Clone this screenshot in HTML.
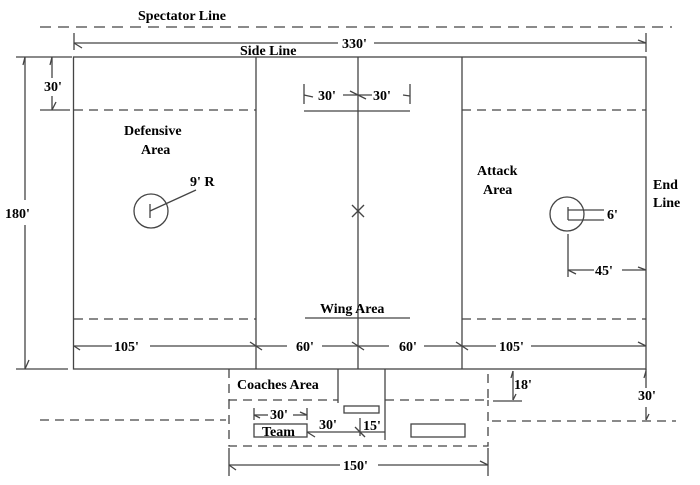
<!DOCTYPE html>
<html><head><meta charset="utf-8"><style>
html,body{margin:0;padding:0;background:#fff;}
svg{display:block;}
text{font-family:"Liberation Serif",serif;font-weight:bold;font-size:14px;fill:#000;}
</style></head><body>
<svg width="700" height="485" viewBox="0 0 700 485" xmlns="http://www.w3.org/2000/svg">
<g stroke="#444" stroke-width="1.3" fill="none">
<line x1="40" y1="27" x2="672" y2="27" stroke-dasharray="11,7"/>
<line x1="74" y1="33" x2="74" y2="50"/><line x1="646" y1="33" x2="646" y2="52"/>
<line x1="74" y1="43" x2="338" y2="43"/><line x1="374" y1="43" x2="646" y2="43"/>
<line x1="74" y1="43" x2="82" y2="48"/><line x1="646" y1="43" x2="638" y2="40"/>
<rect x="73.5" y="57" width="572.5" height="312"/>
<line x1="256" y1="57" x2="256" y2="369"/>
<line x1="358" y1="57" x2="358" y2="369"/>
<line x1="462" y1="57" x2="462" y2="369"/>
<line x1="74" y1="110" x2="256" y2="110" stroke-dasharray="9,6"/>
<line x1="462" y1="110" x2="646" y2="110" stroke-dasharray="9,6"/>
<line x1="74" y1="319" x2="256" y2="319" stroke-dasharray="9,6"/>
<line x1="462" y1="319" x2="646" y2="319" stroke-dasharray="9,6"/>
<line x1="16" y1="57" x2="72" y2="57"/><line x1="40" y1="110" x2="70" y2="110"/>
<line x1="25" y1="57" x2="25" y2="200"/><line x1="25" y1="225" x2="25" y2="369"/>
<line x1="25" y1="369" x2="29" y2="360"/><line x1="25" y1="57" x2="23" y2="65"/>
<line x1="52" y1="57" x2="52" y2="78"/><line x1="52" y1="96" x2="52" y2="110"/>
<line x1="52" y1="110" x2="56" y2="102"/><line x1="52" y1="57" x2="50" y2="65"/>
<line x1="16" y1="369" x2="68" y2="369"/>
<line x1="304" y1="84" x2="304" y2="104"/><line x1="410" y1="84" x2="410" y2="104"/>
<line x1="304" y1="111" x2="410" y2="111"/>
<line x1="304" y1="95" x2="313" y2="97"/><line x1="343" y1="95" x2="372" y2="95"/>
<line x1="350" y1="91" x2="366" y2="99"/><line x1="403" y1="95" x2="410" y2="96"/>
<line x1="305" y1="318" x2="410" y2="318"/>
<circle cx="151" cy="211" r="17"/>
<line x1="150" y1="204" x2="150" y2="218"/><line x1="150" y1="211" x2="196" y2="190"/>
<circle cx="567" cy="214" r="17"/>
<line x1="568" y1="207" x2="568" y2="220"/>
<line x1="568" y1="210" x2="604" y2="210"/><line x1="568" y1="220" x2="604" y2="220"/>
<line x1="568" y1="234" x2="568" y2="277"/>
<line x1="568" y1="270" x2="594" y2="270"/><line x1="622" y1="270" x2="646" y2="270"/>
<line x1="568" y1="270" x2="576" y2="274"/><line x1="646" y1="270" x2="638" y2="267"/>
<line x1="352" y1="205" x2="364" y2="217"/><line x1="364" y1="205" x2="352" y2="217"/>
<line x1="74" y1="346" x2="112" y2="346"/><line x1="150" y1="346" x2="256" y2="346"/>
<line x1="256" y1="346" x2="287" y2="346"/><line x1="322" y1="346" x2="389" y2="346"/>
<line x1="424" y1="346" x2="496" y2="346"/><line x1="531" y1="346" x2="646" y2="346"/>
<line x1="74" y1="346" x2="80" y2="350"/><line x1="250" y1="342" x2="262" y2="350"/>
<line x1="352" y1="342" x2="364" y2="350"/><line x1="456" y1="342" x2="468" y2="350"/>
<line x1="638" y1="342" x2="646" y2="346"/>
<polyline points="229,369 229,400 338,400" stroke-dasharray="9,6"/>
<polyline points="385,400 488,400 488,369" stroke-dasharray="9,6"/>
<line x1="338" y1="369" x2="338" y2="403"/>
<line x1="385" y1="369" x2="385" y2="440"/>
<rect x="344" y="406" width="35" height="7"/>
<rect x="254" y="424" width="53" height="13"/>
<rect x="411" y="424" width="54" height="13"/>
<line x1="307" y1="432" x2="385" y2="432"/>
<line x1="307" y1="432" x2="315" y2="437"/>
<line x1="355" y1="427" x2="365" y2="437"/>
<line x1="360" y1="418" x2="360" y2="436"/>
<line x1="254" y1="408" x2="254" y2="420"/><line x1="307" y1="408" x2="307" y2="420"/>
<line x1="254" y1="415" x2="268" y2="415"/><line x1="293" y1="415" x2="307" y2="415"/>
<line x1="254" y1="415" x2="260" y2="418"/><line x1="300" y1="412" x2="307" y2="415"/>
<line x1="40" y1="420" x2="226" y2="420" stroke-dasharray="9,6"/>
<polyline points="229,400 229,446 488,446 488,400" stroke-dasharray="9,6"/>
<line x1="492" y1="421" x2="676" y2="421" stroke-dasharray="9,6"/>
<line x1="229" y1="448" x2="229" y2="476"/><line x1="488" y1="448" x2="488" y2="476"/>
<line x1="229" y1="465" x2="340" y2="465"/><line x1="378" y1="465" x2="488" y2="465"/>
<line x1="229" y1="465" x2="236" y2="470"/><line x1="480" y1="461" x2="488" y2="465"/>
<line x1="513" y1="371" x2="513" y2="400"/><line x1="493" y1="401" x2="522" y2="401"/>
<line x1="513" y1="371" x2="511" y2="378"/><line x1="513" y1="400" x2="516" y2="394"/>
<line x1="646" y1="369" x2="646" y2="388"/><line x1="646" y1="407" x2="646" y2="420"/>
<line x1="646" y1="371" x2="644" y2="378"/><line x1="646" y1="420" x2="649" y2="414"/>
</g>
<text x="138" y="20">Spectator Line</text>
<text x="240" y="55">Side Line</text>
<text x="342" y="48">330'</text>
<text x="44" y="91">30'</text>
<text x="5" y="218">180'</text>
<text x="124" y="135">Defensive</text>
<text x="141" y="154">Area</text>
<text x="190" y="186">9' R</text>
<text x="318" y="100">30'</text>
<text x="373" y="100">30'</text>
<text x="477" y="175">Attack</text>
<text x="483" y="194">Area</text>
<text x="653" y="189">End</text>
<text x="653" y="207">Line</text>
<text x="607" y="219">6'</text>
<text x="595" y="275">45'</text>
<text x="320" y="313">Wing Area</text>
<text x="114" y="351">105'</text>
<text x="296" y="351">60'</text>
<text x="399" y="351">60'</text>
<text x="499" y="351">105'</text>
<text x="237" y="389">Coaches Area</text>
<text x="514" y="389">18'</text>
<text x="638" y="400">30'</text>
<text x="270" y="419">30'</text>
<text x="319" y="429">30'</text>
<text x="363" y="430">15'</text>
<text x="262" y="436">Team</text>
<text x="343" y="470">150'</text>
</svg>
</body></html>
